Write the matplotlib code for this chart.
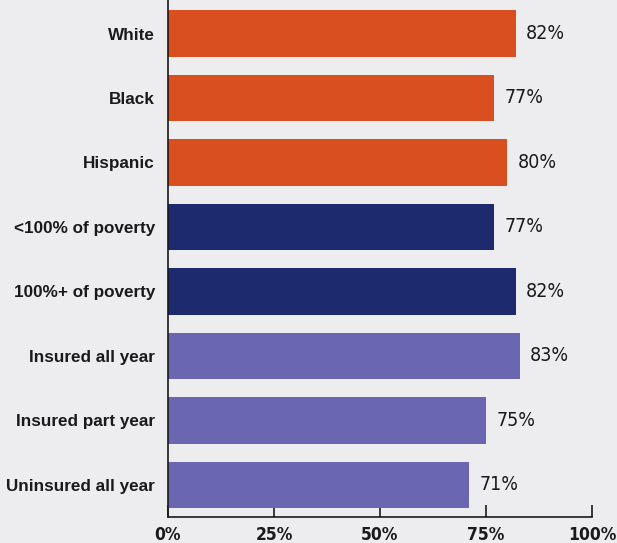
import matplotlib
matplotlib.use("Agg")
import matplotlib.pyplot as plt

# Share of each group, in percent
groups = ["White", "Black", "Hispanic", "<100% of poverty", "100%+ of poverty",
          "Insured all year", "Insured part year", "Uninsured all year"]
shares = [82, 77, 80, 77, 82, 83, 75, 71]
bar_colors = ["#d94f1f", "#d94f1f", "#d94f1f",
              "#1e2a6e", "#1e2a6e",
              "#6a66b2", "#6a66b2", "#6a66b2"]
xticks = [0, 25, 50, 75, 100]

plt.rcParams['font.family'] = ['DejaVu Sans']
plt.rcParams['font.stretch'] = 'condensed'

bg = "#ededf0"
ink = "#1a1a1a"
fig = plt.figure(figsize=(6.17, 5.43), dpi=100, facecolor=bg)
ax = fig.add_axes([168 / 617, 26 / 543, 424 / 617, 517 / 543], facecolor=bg)

pos = list(range(len(groups)))
ax.barh(pos, shares, height=0.72, color=bar_colors, zorder=2)

# value labels just past the end of each bar
for y, v in zip(pos, shares):
    ax.text(v + 2.4, y, f"{v}%", va="center", ha="left", fontsize=14, color=ink)

ax.set_xlim(0, 100)
ax.set_ylim(7.5, -0.52)
ax.set_yticks(pos)
ax.set_yticklabels(groups, fontsize=12.3, fontweight="bold", color=ink,
                   family=["Liberation Sans", "DejaVu Sans"], stretch="normal")
ax.tick_params(axis="y", length=0, pad=9.4)

ax.set_xticks(xticks)
ax.set_xticklabels([f"{t}%" for t in xticks], fontsize=12.5, fontweight="bold", color=ink)
ax.tick_params(axis="x", direction="in", length=8.6, width=1.2, pad=6.5, color=ink)

for side in ["top", "right"]:
    ax.spines[side].set_visible(False)
for side in ["left", "bottom"]:
    ax.spines[side].set_linewidth(1.2)
    ax.spines[side].set_color(ink)

fig.savefig("out.png", dpi=100, facecolor=bg)
